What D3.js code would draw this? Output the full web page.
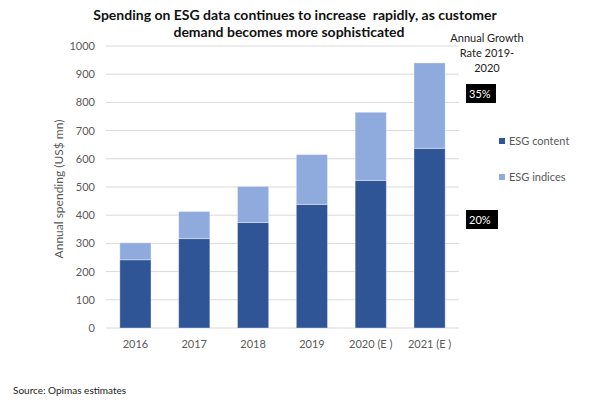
<!DOCTYPE html>
<html>
<head>
<meta charset="utf-8">
<script src="https://cdn.jsdelivr.net/npm/d3@7"></script>
<style>
body{margin:0;background:#fff;}
text{font-family:Lato,"Open Sans",sans-serif;}
</style>
</head>
<body>
<svg id="c" width="591" height="407"></svg>
<script>
const categories = ["2016","2017","2018","2019","2020 (E )","2021 (E )"];
const esgContent = [242,317,374,438,523,637];
const esgIndices = [60,96,128,177,242,303];
const yTicks = [0,100,200,300,400,500,600,700,800,900,1000];
const seriesNames = ["ESG content","ESG indices"];
const growthLabels = ["35%","20%"];
const colors = ["#2F5597","#8FAADC"];

const svg = d3.select("#c");
const m = {l:106, r:459, t:46, b:328};
const x = d3.scaleBand().domain(categories).range([m.l,m.r]).paddingInner(0.47).paddingOuter(0.235);
const y = d3.scaleLinear().domain([0,1000]).range([m.b,m.t]);

// gridlines
svg.append("g").selectAll("line").data(yTicks).join("line")
  .attr("x1",m.l).attr("x2",m.r)
  .attr("y1",d=>y(d)).attr("y2",d=>y(d))
  .attr("stroke","#d9d9d9").attr("stroke-width",1);

// y axis labels
const yAxis = d3.axisLeft(y).tickValues(yTicks).tickFormat(d3.format("d")).tickSize(0).tickPadding(11);
const ga = svg.append("g").attr("transform",`translate(${m.l},0)`).call(yAxis);
ga.select(".domain").remove();
ga.selectAll("text").attr("font-size",11).attr("fill","#595959").attr("font-family","Lato,sans-serif");

// x axis labels
const xAxis = d3.axisBottom(x).tickSize(0).tickPadding(12);
const gx = svg.append("g").attr("transform",`translate(0,${m.b})`).call(xAxis);
gx.select(".domain").remove();
gx.selectAll("text").attr("font-size",11).attr("fill","#595959").attr("font-family","Lato,sans-serif");

// stacked bars
const data = categories.map((c,i)=>({cat:c, content:esgContent[i], indices:esgIndices[i]}));
const stack = d3.stack().keys(["content","indices"])(data);
svg.append("g").selectAll("g").data(stack).join("g")
  .attr("fill",(d,i)=>colors[i])
  .selectAll("rect").data(d=>d).join("rect")
  .attr("x",d=>x(d.data.cat)).attr("width",x.bandwidth())
  .attr("y",d=>y(d[1])).attr("height",d=>y(d[0])-y(d[1]))
  .attr("stroke","rgba(255,255,255,0.35)").attr("stroke-width",1);

// title
const title = svg.append("text").attr("text-anchor","middle")
  .attr("font-size",14).attr("font-weight","bold").attr("fill","#111")
  .style("white-space","pre");
title.append("tspan").attr("x",295).attr("y",20).text("Spending on ESG data continues to increase  rapidly, as customer");
title.append("tspan").attr("x",289).attr("y",37).text("demand becomes more sophisticated");

// y title
svg.append("text").attr("transform","translate(63,189) rotate(-90)")
  .attr("text-anchor","middle").attr("font-size",12).attr("fill","#595959")
  .text("Annual spending (US$ mn)");

// growth annotation
const ann = svg.append("text").attr("text-anchor","middle").attr("font-size",11).attr("fill","#222");
["Annual Growth","Rate 2019-","2020"].forEach((t,i)=>ann.append("tspan").attr("x",487).attr("y",42+i*15).text(t));

// growth boxes
const boxes = [{t:growthLabels[0], y:84, w:30},{t:growthLabels[1], y:210, w:32}];
boxes.forEach(b=>{
  svg.append("rect").attr("x",466).attr("y",b.y).attr("width",b.w).attr("height",19).attr("fill","#000");
  svg.append("text").attr("x",469).attr("y",b.y+13.5).attr("font-size",11).attr("fill","#fff").text(b.t);
});

// legend
seriesNames.forEach((n,i)=>{
  const ly = 141 + i*36;
  svg.append("rect").attr("x",499).attr("y",ly-3).attr("width",6).attr("height",6).attr("fill",colors[i]);
  svg.append("text").attr("x",509).attr("y",ly+4).attr("font-size",11).attr("fill","#595959").text(n);
});

// source
svg.append("text").attr("x",13).attr("y",394).attr("font-size",10).attr("fill","#222").text("Source: Opimas estimates");
</script>
</body>
</html>
